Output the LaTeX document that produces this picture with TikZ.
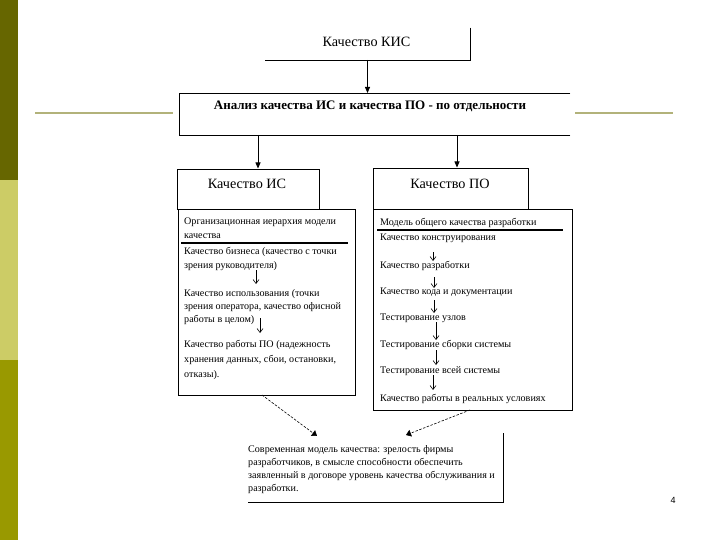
\documentclass[tikz,border=0pt]{standalone}
\usepackage{fontspec}
\setmainfont{Liberation Serif}
\newfontfamily\numfont{Liberation Sans}
\usetikzlibrary{arrows.meta}
\definecolor{barA}{RGB}{102,102,0}
\definecolor{barB}{RGB}{204,204,102}
\definecolor{barC}{RGB}{153,153,0}
\definecolor{rule}{RGB}{178,178,122}
\tikzset{
  frame/.style={line width=0.9pt, line cap=rect},
  boxnode/.style={draw=none, inner sep=0pt, outer sep=0pt},
  bigtxt/.style={font=\fontsize{14.2}{16}\selectfont, inner sep=0pt},
  smalltxt/.style={font=\fontsize{10.1}{11}\selectfont, anchor=west, inner sep=0pt},
  mainarr/.style={line width=0.8pt, -{Triangle[length=6pt,width=5pt]}},
  subarr/.style={line width=0.6pt, -{Straight Barb[length=4pt,width=6pt]}},
  dasharr/.style={line width=0.6pt, dash pattern=on 2.5pt off 1.5pt, -{Triangle[length=5pt,width=7pt]}},
  olive/.style={draw=rule, line width=2.2pt}
}
\begin{document}
\begin{tikzpicture}[x=1pt,y=-1pt]
\useasboundingbox (0,0) rectangle (720,540);
% left bar
\fill[barA] (0,0) rectangle (18,180);
\fill[barB] (0,180) rectangle (18,360);
\fill[barC] (0,360) rectangle (18,540);
% olive rules
\coordinate (rl1) at (35,113); \coordinate (rl2) at (173,113);
\coordinate (rr1) at (575,113); \coordinate (rr2) at (673,113);
\draw[olive] (rl1) -- (rl2);
\draw[olive] (rr1) -- (rr2);
% box frames (invisible nodes)
\node[boxnode, minimum width=205pt, minimum height=32pt] (kis) at (367.5,44) {};
\node[boxnode, minimum width=391pt, minimum height=42pt] (an) at (374.5,114) {};
\node[boxnode, minimum width=142pt, minimum height=40pt] (is) at (248,189) {};
\node[boxnode, minimum width=177pt, minimum height=186pt] (isd) at (266.5,302) {};
\node[boxnode, minimum width=155pt, minimum height=41pt] (po) at (450.5,188.5) {};
\node[boxnode, minimum width=199pt, minimum height=201pt] (pod) at (472.5,309.5) {};
\node[boxnode, minimum width=255pt, minimum height=69pt] (sm) at (375.5,467.5) {};
% frames
\draw[frame] (kis.north east) -- (kis.south east) -- (kis.south west);
\draw[frame] (an.north east) -- (an.north west) -- (an.south west) -- (an.south east);
\draw[frame] (is.south west) rectangle (is.north east);
\draw[frame] (isd.south west) rectangle (isd.north east);
\draw[frame] (po.south west) rectangle (po.north east);
\draw[frame] (pod.south west) rectangle (pod.north east);
\draw[frame] (sm.north east) -- (sm.south east) -- (sm.south west);
% titles
\node[bigtxt] (tkis) at (366.5,42) {Качество КИС};
\node[bigtxt, font=\fontsize{13}{15}\selectfont\bfseries] (tan) at (370,106) {Анализ качества ИС и качества ПО - по отдельности};
\node[bigtxt] (tis) at (247,184) {Качество ИС};
\node[bigtxt] (tpo) at (450,184) {Качество ПО};
% main arrows
\draw[mainarr] (kis.south) -- (kis.south |- an.north);
\coordinate (a1s) at (258,135); \coordinate (a1e) at (258,168.5);
\coordinate (a2s) at (457,135); \coordinate (a2e) at (457,167.5);
\draw[mainarr] (a1s) -- (a1e);
\draw[mainarr] (a2s) -- (a2e);
% left detail text
\node[smalltxt] (l1) at (184,222) {Организационная иерархия модели};
\node[smalltxt] (l2) at (184,236) {качества};
\coordinate (ul1) at (181,243); \coordinate (ul2) at (348,243);
\draw[line width=1.8pt] (ul1) -- (ul2);
\node[smalltxt] (l3) at (184,252) {Качество бизнеса (качество с точки};
\node[smalltxt] (l4) at (184,266) {зрения руководителя)};
\node[smalltxt] (l5) at (184,294) {Качество использования (точки};
\node[smalltxt] (l6) at (184,307) {зрения оператора, качество офисной};
\node[smalltxt] (l7) at (184,320) {работы в целом)};
\node[smalltxt] (l8) at (184,345) {Качество работы ПО (надежность};
\node[smalltxt] (l9) at (184,360) {хранения данных, сбои, остановки,};
\node[smalltxt] (l10) at (184,375) {отказы).};
\coordinate (la1s) at (256,270); \coordinate (la1e) at (256,284);
\coordinate (la2s) at (260,318); \coordinate (la2e) at (260,333);
\draw[subarr] (la1s) -- (la1e);
\draw[subarr] (la2s) -- (la2e);
% right detail text
\node[smalltxt] (r1) at (380,223) {Модель общего качества разработки};
\coordinate (ur1) at (377,230); \coordinate (ur2) at (563,230);
\draw[line width=1.8pt] (ur1) -- (ur2);
\node[smalltxt] (r2) at (380,238) {Качество конструирования};
\node[smalltxt] (r3) at (380,266) {Качество разработки};
\node[smalltxt] (r4) at (380,292) {Качество кода и документации};
\node[smalltxt] (r5) at (380,318) {Тестирование узлов};
\node[smalltxt] (r6) at (380,345) {Тестирование сборки системы};
\node[smalltxt] (r7) at (380,371) {Тестирование всей системы};
\node[smalltxt] (r8) at (380,399) {Качество работы в реальных условиях};
\coordinate (ra1s) at (433,252); \coordinate (ra1e) at (433,261);
\coordinate (ra2s) at (434,277); \coordinate (ra2e) at (434,288);
\coordinate (ra3s) at (434,300); \coordinate (ra3e) at (434,313);
\coordinate (ra4s) at (436,322); \coordinate (ra4e) at (436,340);
\coordinate (ra5s) at (436,350); \coordinate (ra5e) at (436,365);
\coordinate (ra6s) at (433,375); \coordinate (ra6e) at (433,390);
\foreach \i in {1,...,6} {\draw[subarr] (ra\i s) -- (ra\i e);}
% bottom text
\node[smalltxt] (b1) at (248,450) {Современная модель качества: зрелость фирмы};
\node[smalltxt] (b2) at (248,463) {разработчиков, в смысле способности обеспечить};
\node[smalltxt] (b3) at (248,476) {заявленный в договоре уровень качества обслуживания и};
\node[smalltxt] (b4) at (248,489) {разработки.};
% dashed arrows
\coordinate (d1s) at (262,395); \coordinate (d1e) at (317,436);
\coordinate (d2s) at (470,410); \coordinate (d2e) at (406,435);
\draw[dasharr] (d1s) -- (d1e);
\draw[dasharr] (d2s) -- (d2e);
% page number
\node[font=\numfont\fontsize{9}{10}\selectfont, inner sep=0pt] (pg) at (673,500) {4};
\end{tikzpicture}
\end{document}
